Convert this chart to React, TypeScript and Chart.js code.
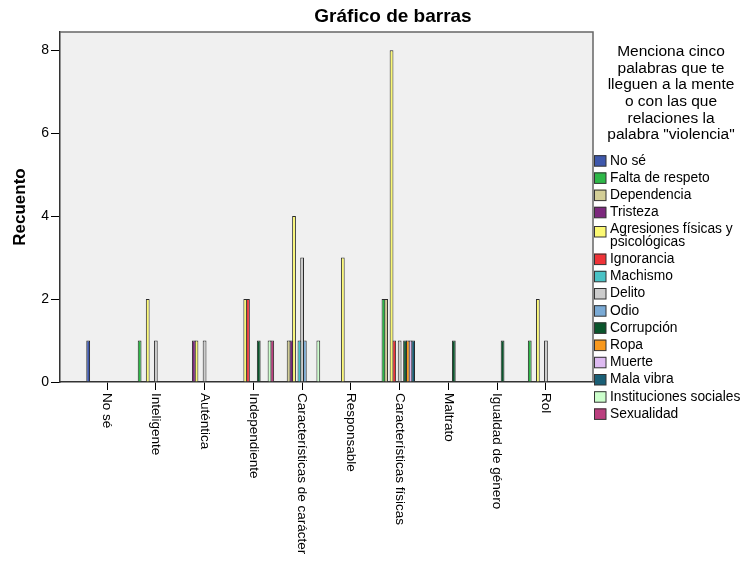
import React, { useEffect, useRef } from "react";
import { Chart, registerables } from "chart.js";

Chart.register(...registerables);

const FONT = '"Liberation Sans", Arial, Helvetica, sans-serif';

const chartTitle = "Gráfico de barras";
const yAxisTitle = "Recuento";
const legendTitleLines = [
  "Menciona cinco",
  "palabras que te",
  "lleguen a la mente",
  "o con las que",
  "relaciones la",
  'palabra "violencia"',
];

const categories = [
  "No sé",
  "Inteligente",
  "Auténtica",
  "Independiente",
  "Características de carácter",
  "Responsable",
  "Características físicas",
  "Maltrato",
  "Igualdad de género",
  "Rol",
];

const seriesNames = [
  "No sé",
  "Falta de respeto",
  "Dependencia",
  "Tristeza",
  "Agresiones físicas y psicológicas",
  "Ignorancia",
  "Machismo",
  "Delito",
  "Odio",
  "Corrupción",
  "Ropa",
  "Muerte",
  "Mala vibra",
  "Instituciones sociales",
  "Sexualidad",
];

const seriesColors = [
  "#3E58AC",
  "#2EB848",
  "#D3CE97",
  "#7C287D",
  "#FBF873",
  "#EF3338",
  "#48C2C5",
  "#CCCCCC",
  "#7AAAD5",
  "#0A562C",
  "#F8981D",
  "#DDBAF1",
  "#1A5F76",
  "#CCFFCC",
  "#BB3F7F",
];

// values per series, in category order
const noSe = [1, 0, 0, 0, 0, 0, 0, 0, 0, 0];
const faltaDeRespeto = [0, 1, 0, 0, 0, 0, 2, 0, 0, 1];
const dependencia = [0, 0, 0, 0, 1, 0, 2, 0, 0, 0];
const tristeza = [0, 0, 1, 0, 1, 0, 0, 0, 0, 0];
const agresiones = [0, 2, 1, 2, 4, 3, 8, 0, 0, 2];
const ignorancia = [0, 0, 0, 2, 0, 0, 1, 0, 0, 0];
const machismo = [0, 0, 0, 0, 1, 0, 0, 0, 0, 0];
const delito = [0, 1, 1, 0, 3, 0, 1, 0, 0, 1];
const odio = [0, 0, 0, 0, 1, 0, 0, 0, 0, 0];
const corrupcion = [0, 0, 0, 1, 0, 0, 1, 1, 1, 0];
const ropa = [0, 0, 0, 0, 0, 0, 1, 0, 0, 0];
const muerte = [0, 0, 0, 0, 0, 0, 1, 0, 0, 0];
const malaVibra = [0, 0, 0, 0, 0, 0, 1, 0, 0, 0];
const institucionesSociales = [0, 0, 0, 1, 1, 0, 0, 0, 0, 0];
const sexualidad = [0, 0, 0, 1, 0, 0, 0, 0, 0, 0];

const seriesValues = [
  noSe,
  faltaDeRespeto,
  dependencia,
  tristeza,
  agresiones,
  ignorancia,
  machismo,
  delito,
  odio,
  corrupcion,
  ropa,
  muerte,
  malaVibra,
  institucionesSociales,
  sexualidad,
];

const yTicks = [0, 2, 4, 6, 8];
const yMax = 8.44;
// category axis padding (SPSS leaves extra room at both ends)
const xStartValue = -0.965;
const xValueRange = 10.93;

function wrapText(ctx: CanvasRenderingContext2D, text: string, maxW: number): string[] {
  const words = text.split(" ");
  const lines: string[] = [];
  let cur = "";
  for (const w of words) {
    const test = cur ? cur + " " + w : w;
    if (ctx.measureText(test).width > maxW && cur) {
      lines.push(cur);
      cur = w;
    } else {
      cur = test;
    }
  }
  if (cur) lines.push(cur);
  return lines;
}

const decorPlugin = {
  id: "decor",
  beforeDraw(chart: any) {
    const { ctx, chartArea: a } = chart;
    ctx.save();
    ctx.fillStyle = "#FFFFFF";
    ctx.fillRect(0, 0, chart.width, chart.height);
    ctx.fillStyle = "#F0F0F0";
    ctx.fillRect(a.left, a.top, a.right - a.left, a.bottom - a.top);
    ctx.restore();
  },
  afterDraw(chart: any) {
    const { ctx, chartArea: a } = chart;
    ctx.save();
    // frame top & right
    ctx.strokeStyle = "#666666";
    ctx.lineWidth = 1.5;
    ctx.beginPath();
    ctx.moveTo(a.left, a.top);
    ctx.lineTo(a.right, a.top);
    ctx.lineTo(a.right, a.bottom);
    ctx.stroke();

    // title
    ctx.fillStyle = "#000";
    ctx.font = `bold 19px ${FONT}`;
    ctx.textAlign = "center";
    ctx.textBaseline = "middle";
    ctx.fillText(chartTitle, 393, 17);

    // x labels, rotated clockwise
    const xs = chart.scales.x;
    ctx.font = `13.5px ${FONT}`;
    ctx.textAlign = "left";
    ctx.textBaseline = "middle";
    (chart.data.labels as string[]).forEach((lab, i) => {
      const x = xs.getPixelForTick(i);
      ctx.save();
      ctx.translate(x, a.bottom + 11);
      ctx.rotate(Math.PI / 2);
      ctx.fillText(lab, 0, 0);
      ctx.restore();
    });

    // legend title
    ctx.font = `15.5px ${FONT}`;
    ctx.textAlign = "center";
    legendTitleLines.forEach((l, i) => {
      ctx.fillText(l, 671, 51.7 + 16.7 * i);
    });

    // legend items
    ctx.font = `13.8px ${FONT}`;
    ctx.textAlign = "left";
    let y = 160.7;
    chart.data.datasets.forEach((ds: any) => {
      const lines = wrapText(ctx, ds.label, 136);
      const boxY = lines.length > 1 ? y + 2 : y;
      ctx.fillStyle = ds.backgroundColor;
      ctx.fillRect(594, boxY - 5.5, 12, 11);
      ctx.strokeStyle = "#333";
      ctx.lineWidth = 1;
      ctx.strokeRect(594.5, boxY - 5, 11.5, 10.5);
      ctx.fillStyle = "#000";
      lines.forEach((ln, j) => ctx.fillText(ln, 610, y + j * 12.4));
      y += 17.2 + (lines.length - 1) * 12.4;
    });
    ctx.restore();
  },
};

export default function App() {
  const canvasRef = useRef<HTMLCanvasElement | null>(null);

  useEffect(() => {
    const canvas = canvasRef.current;
    if (!canvas) return;
    const chart = new Chart(canvas, {
      type: "bar",
      data: {
        labels: categories,
        datasets: seriesNames.map((name, i) => ({
          label: name,
          data: seriesValues[i].map((v) => (v === 0 ? null : v)),
          backgroundColor: seriesColors[i],
          borderColor: "#2a2a2a",
          borderWidth: 1,
          categoryPercentage: 0.83,
          barPercentage: 1.4,
        })),
      },
      options: {
        animation: false,
        responsive: false,
        devicePixelRatio: 1,
        layout: { padding: { top: 32, right: 150, left: 0, bottom: 0 } },
        plugins: {
          legend: { display: false },
          title: { display: false },
          tooltip: { enabled: false },
        },
        scales: {
          x: {
            type: "category",
            offset: true,
            afterFit: (s: any) => {
              s.height = 179;
            },
            afterBuildTicks: (s: any) => {
              s._startValue = xStartValue;
              s._valueRange = xValueRange;
            },
            ticks: { display: false },
            grid: {
              offset: false,
              drawOnChartArea: false,
              drawTicks: true,
              tickLength: 8,
              color: "#000",
              lineWidth: 1,
            },
            border: { display: true, color: "#333", width: 1.5 },
          },
          y: {
            type: "linear",
            min: 0,
            max: yMax,
            afterFit: (s: any) => {
              s.width = 60;
            },
            afterBuildTicks: (s: any) => {
              s.ticks = yTicks.map((v) => ({ value: v }));
            },
            ticks: {
              font: { size: 14, family: FONT },
              color: "#000",
              padding: 2,
            },
            grid: {
              drawOnChartArea: false,
              drawTicks: true,
              tickLength: 9,
              color: "#000",
              lineWidth: 1,
            },
            border: { display: true, color: "#333", width: 1.5 },
            title: {
              display: true,
              text: yAxisTitle,
              color: "#000",
              font: { size: 17, weight: "bold", family: FONT },
              padding: { top: 10, bottom: 0 },
            },
          },
        },
      },
      plugins: [decorPlugin],
    } as any);
    return () => chart.destroy();
  }, []);

  return (
    <div style={{ position: "fixed", left: 0, top: 0, width: 743, height: 561, background: "#fff" }}>
      <canvas ref={canvasRef} width={743} height={561} style={{ width: 743, height: 561, display: "block" }} />
    </div>
  );
}
